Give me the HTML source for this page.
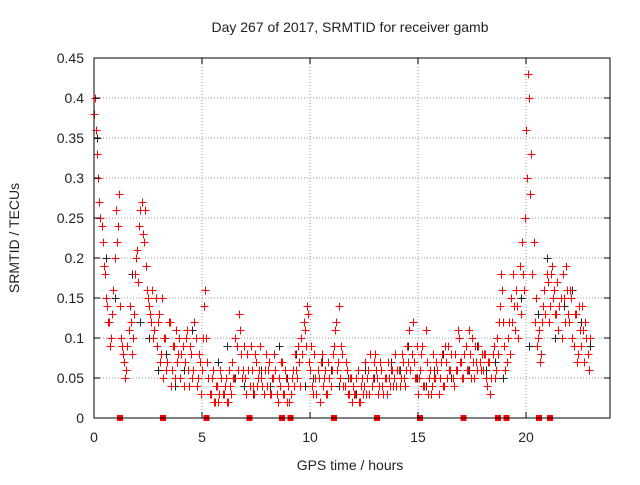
<!DOCTYPE html>
<html><head><meta charset="utf-8"><style>
body{margin:0;background:#fff;}
svg text{font-family:"Liberation Sans",sans-serif;font-size:14px;fill:#222;}
</style></head><body>
<svg id="chart" width="640" height="480">
<text x="350" y="32" text-anchor="middle">Day 267 of 2017, SRMTID for receiver gamb</text>
<text x="350" y="470" text-anchor="middle">GPS time / hours</text>
<text transform="translate(19,238) rotate(-90)" text-anchor="middle">SRMTID / TECUs</text>
<g id="grid"></g><g id="marks" shape-rendering="crispEdges"></g><g id="axes" shape-rendering="crispEdges"></g>
</svg>
<script>
const xTicks=[0,5,10,15,20];
const yTicks=[0,0.05,0.1,0.15,0.2,0.25,0.3,0.35,0.4,0.45];
const yTickLabels=["0","0.05","0.1","0.15","0.2","0.25","0.3","0.35","0.4","0.45"];
const stepA=0.1;
const redA=[38,36,30,25,22,18,14,12,10,16,26,24,14,9,7,6,11,12,10,18,21,24,27,22,19,15,13,16,11,9,13,8,5,10,7,12,6,9,11,8,5,9,7,11,4,8,6,10,5,7,6,14,10,5,3,6,2,4,3,5,3,5,2,4,7,5,9,13,8,6,5,8,4,6,3,7,5,9,4,6,4,7,3,5,6,2,4,7,3,5,4,3,6,8,5,7,10,12,9,13,6,4,8,3,5,7,4,6,3,5,6,9,12,7,5,8,4,6,3,5,4,3,6,2,5,4,3,6,8,5,8,5,4,6,3,5,7,4,6,5,4,6,5,7,4,9,11,8,7,5,3,6,9,4,7,5,3,8,5,6,5,8,4,7,9,6,5,8,6,10,7,5,9,6,8,10,5,7,9,6,6,8,4,7,5,9,6,8,14,16,9,7,12,15,18,11,14,19,22,16,36,43,28,18,12,9,11,8,14,13,17,14,19,16,13,11,15,18,12,16,12,15,9,13,8,11,14,7,10,6];
const redB=[40,33,27,24,19,15,12,9,13,20,22,28,10,8,5,9,14,8,13,20,17,26,23,26,16,14,12,10,15,12,7,15,10,6,12,4,9,5,7,10,8,4,10,6,9,5,12,4,8,3,10,16,7,3,5,2,4,2,6,3,4,2,6,3,5,10,6,11,5,9,3,6,9,4,8,4,6,5,3,8,6,3,5,8,3,5,7,3,6,2,2,5,4,6,9,4,8,11,14,7,9,3,5,6,2,8,5,3,7,4,8,11,6,14,9,4,7,3,5,2,3,5,2,4,3,7,5,3,4,7,6,3,7,4,5,3,5,6,4,8,6,4,8,5,6,7,6,12,5,9,5,8,4,11,3,6,4,5,7,3,7,4,9,5,6,8,4,6,11,7,5,8,6,11,5,7,9,6,7,8,8,5,7,3,8,5,10,12,18,12,6,10,8,12,14,16,10,13,18,25,30,40,33,22,15,10,7,12,16,18,12,18,15,13,17,14,10,15,19,13,16,10,13,7,14,9,11,12,8,10];
const stepC=0.4;
const blackC=[35,20,15,8,18,12,10,6,8,4,6,11,3,3,7,9,5,4,3,6,4,9,5,8,4,5,7,6,4,5,3,6,5,4,7,6,9,5,4,6,8,5,7,6,9,6,7,5,12,15,9,13,20,10,14,16,12,9];
const gapHours=[1.2,3.2,5.2,7.2,8.7,9.1,11.1,13.1,15.1,17.1,18.7,19.1,20.6,21.1];
const L=94,R=610,T=58,B=418;
const X=h=>L+h*21.6;
const Y=v=>B-(v/0.45)*(B-T);
const NS='http://www.w3.org/2000/svg';
function mk(t,a,p){const e=document.createElementNS(NS,t);for(const k in a)e.setAttribute(k,a[k]);p.appendChild(e);return e;}
const grid=document.getElementById('grid'),marks=document.getElementById('marks'),axes=document.getElementById('axes');
xTicks.forEach(t=>{
 if(t>0){const g=mk('line',{x1:X(t),x2:X(t),y1:T,y2:B,stroke:'#999','stroke-dasharray':'1,2'},grid);
 
 }
 const tx=mk('text',{x:X(t),y:B+24,'text-anchor':'middle'},axes);tx.textContent=t;
 
 
 mk('line',{x1:X(t),x2:X(t),y1:B,y2:B-6,stroke:'#000'},axes);
 mk('line',{x1:X(t),x2:X(t),y1:T,y2:T+6,stroke:'#000'},axes);
});
yTicks.forEach((t,i)=>{
 if(t>0&&t<0.45){const g=mk('line',{x1:L,x2:R,y1:Y(t),y2:Y(t),stroke:'#999','stroke-dasharray':'1,2'},grid);
 
 }
 const tx=mk('text',{x:L-10,y:Y(t)+5,'text-anchor':'end'},axes);tx.textContent=yTickLabels[i];
 
 
 mk('line',{x1:L,x2:L+6,y1:Y(t),y2:Y(t),stroke:'#000'},axes);
 mk('line',{x1:R,x2:R-6,y1:Y(t),y2:Y(t),stroke:'#000'},axes);
});
const box=mk('rect',{x:L,y:T,width:R-L,height:B-T,fill:'none',stroke:'#000'},axes);


function plus(h,v,c,name){
 const x=Math.round(X(h))+0.5,y=Math.round(Y(v/100))+0.5;
 const p=mk('path',{d:`M${x-4},${y}H${x+4}M${x},${y-4}V${y+4}`,stroke:c,'stroke-width':1,fill:'none'},marks);
 
 
}
blackC.forEach((v,i)=>plus(i*stepC+0.15,v,'#222','black-point'));
redA.forEach((v,i)=>plus(i*stepA,v,'#f00','red-point'));
redB.forEach((v,i)=>plus(i*stepA+0.05,v,'#f00','red-point'));
gapHours.forEach(h=>{
 const r=mk('rect',{x:X(h)-3,y:B-3,width:6,height:6,fill:'#f00'},marks);
 
 
});
</script>
</body></html>
